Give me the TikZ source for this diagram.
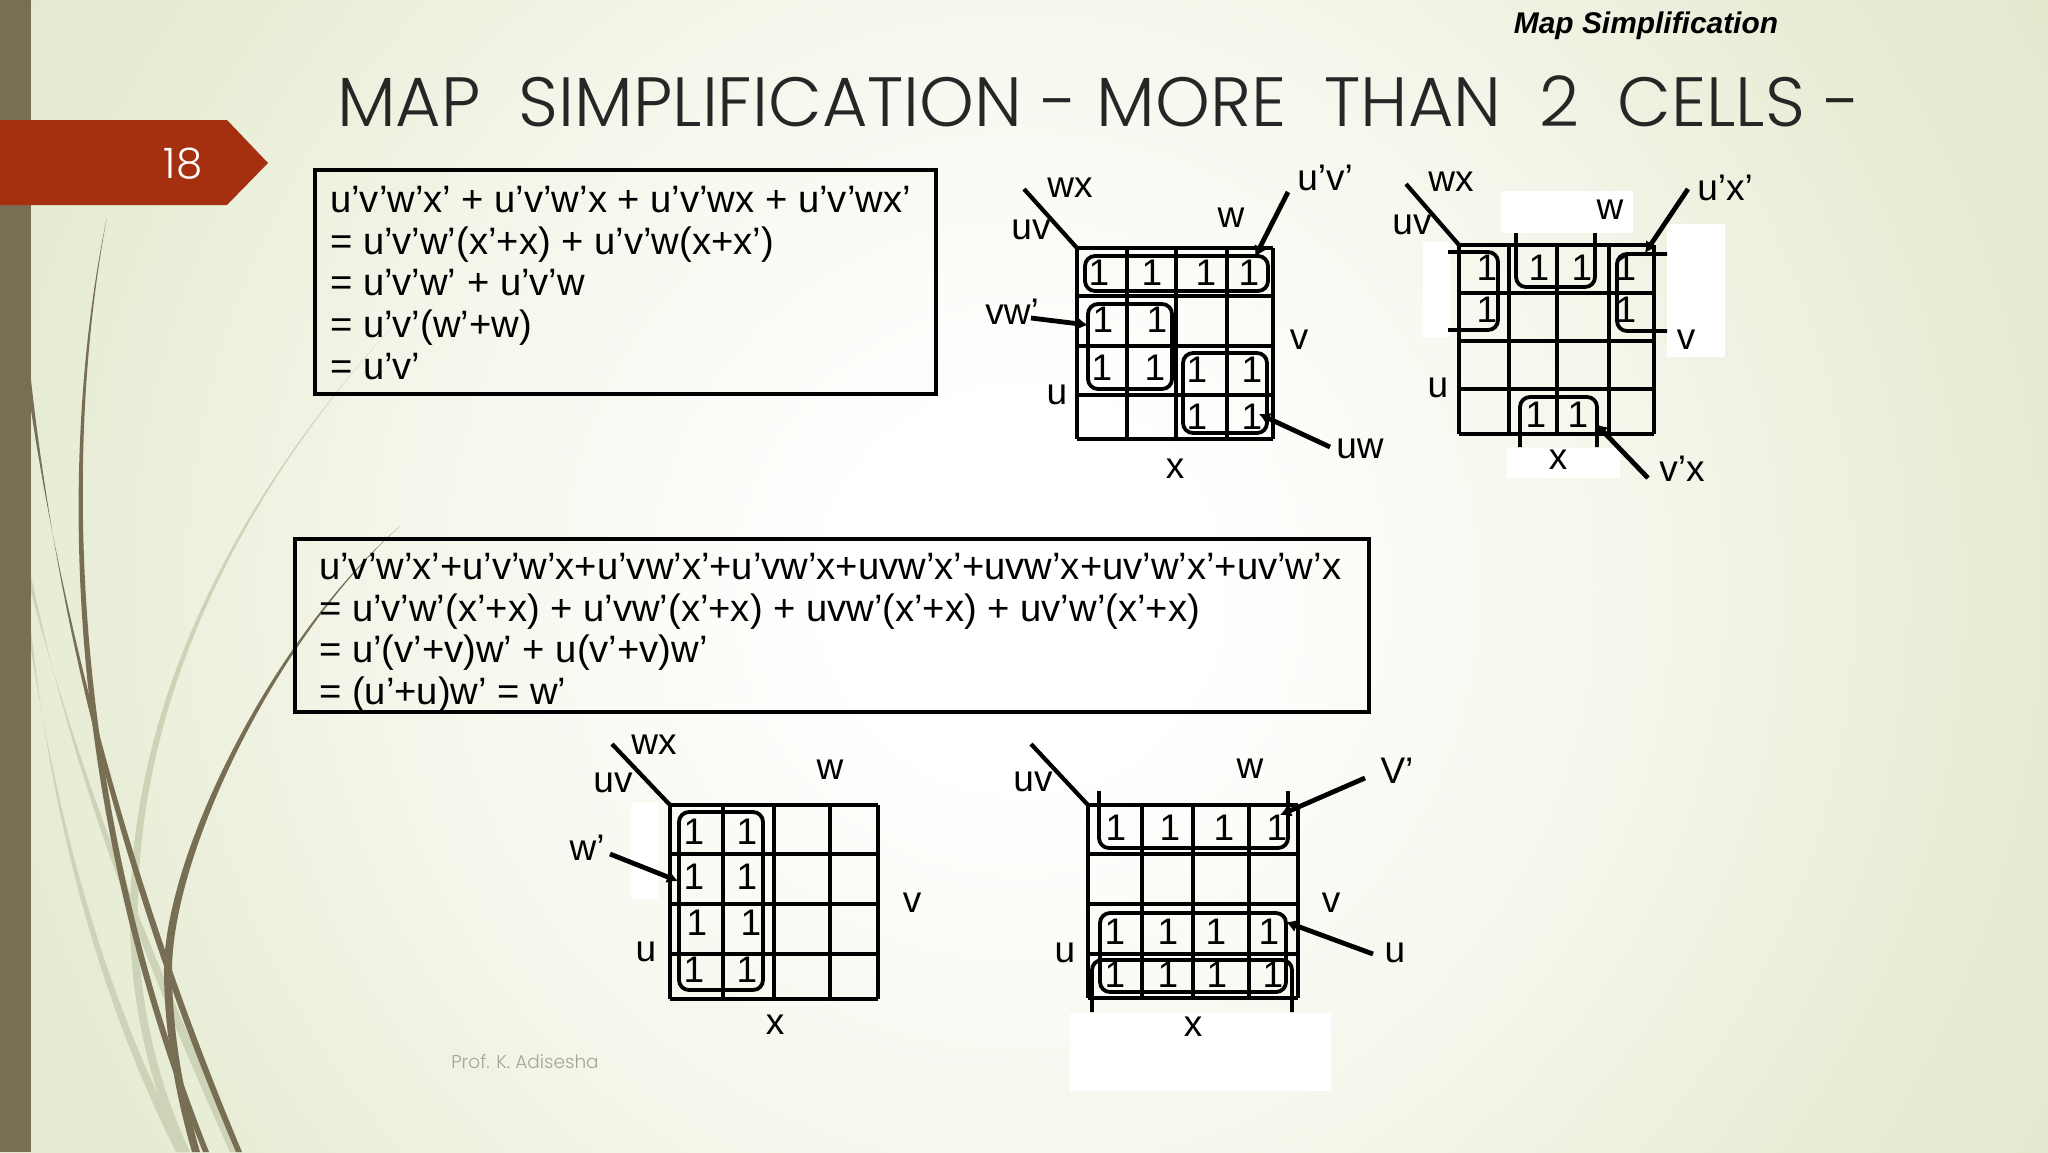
\documentclass[tikz,border=0pt]{standalone}
\usepackage{fontspec}
\setmainfont{Liberation Sans}
\newfontfamily\titlefont{Poppins Light}
\usetikzlibrary{arrows.meta}
\definecolor{bgA}{HTML}{FFFFFF}
\definecolor{bgB}{HTML}{F5F7EC}
\definecolor{bgC}{HTML}{E8EDD6}
\definecolor{bgD}{HTML}{DAE3C0}
\definecolor{barcol}{HTML}{786E54}
\definecolor{redcol}{HTML}{A53010}
\definecolor{curvedark}{HTML}{786E54}
\definecolor{curvelight}{HTML}{CDD3B6}
\definecolor{footcol}{HTML}{A3A695}
\pgfdeclareradialshading{slidebg}{\pgfpoint{0bp}{0bp}}{color(0bp)=(bgA); color(3bp)=(bgA); color(10bp)=(bgB); color(16bp)=(bgC); color(25bp)=(bgD); color(50bp)=(bgD)}
\tikzset{
  lbl/.style={inner sep=0pt,font=\fontsize{37}{37}\selectfont,text=black},
  one/.style={inner sep=0pt,font=\fontsize{37}{37}\selectfont,text=black},
  gridline/.style={line width=4.4pt,draw=black},
  loopline/.style={line width=3.8pt,draw=black,rounded corners=10pt},
  leader/.style={line width=4.2pt,draw=black},
  pointer/.style={line width=4.8pt,draw=black,-{Latex[length=11pt,width=13pt]}},
  mask/.style={fill=white,draw=none},
  eqbox/.style={line width=4.4pt,draw=black},
  eq/.style={inner sep=0pt,anchor=base west,font=\fontsize{38.2}{38.2}\selectfont,text=black}
}
\begin{document}
\begin{tikzpicture}[x=1pt,y=-1pt]
\useasboundingbox (0,0) rectangle (2048,1152);
% background
\begin{scope}
\clip (0,0) rectangle (2048,1152);
\fill[shading=slidebg] (1020,590) circle (1500);
\end{scope}
% swooshes
\fill[curvelight] (31,576) .. controls (70,760) and (130,930) .. (230,1152) -- (241,1152) .. controls (138,930) and (76,760) .. (31,592) -- cycle;
\fill[curvelight] (31,630) .. controls (50,800) and (90,980) .. (176,1152) -- (186,1152) .. controls (96,980) and (55,800) .. (31,650) -- cycle;
\fill[curvelight] (400,318) .. controls (260,470) and (128,680) .. (130,925) .. controls (131,1000) and (148,1080) .. (180,1152) -- (190,1152) .. controls (156,1080) and (139,1000) .. (138,925) .. controls (134,680) and (261,470) .. (400,318) -- cycle;
\fill[curvedark] (31,380) .. controls (60,640) and (128,900) .. (236,1152) -- (242,1152) .. controls (136,900) and (66,640) .. (31,410) -- cycle;
\fill[curvedark] (107,217) .. controls (58,450) and (62,800) .. (203,1152) -- (209,1152) .. controls (69,800) and (63,450) .. (107,217) -- cycle;
\fill[curvedark] (400,526) .. controls (270,640) and (162,860) .. (164,975) .. controls (165,1040) and (177,1100) .. (192,1152) -- (200,1152) .. controls (185,1100) and (173,1040) .. (172,975) .. controls (170,860) and (272,642) .. (400,526) -- cycle;
% side bar and tag
\fill[barcol] (0,0) rectangle (31,1152);
\fill[redcol] (0,120) -- (227,120) -- (268,163) -- (227,205) -- (0,205) -- cycle;
\node[inner sep=0pt,text=white,font=\titlefont\fontsize{42}{42}\selectfont] (num) at (183,164) {18};
% titles
\node[anchor=base,inner sep=0pt,font=\bfseries\itshape\fontsize{29.9}{29.9}\selectfont] (top) at (1646,33) {Map Simplification};
\node[anchor=base west,inner sep=0pt,text=black!85,font=\titlefont\fontsize{69.7}{69.7}\selectfont] (title) at (337,126) {MAP\ \ SIMPLIFICATION - MORE\ \ THAN\ \ 2\ \ CELLS -};
% box 1
\node[inner sep=0pt] (b1a) at (315,170) {};
\node[inner sep=0pt] (b1b) at (936,394) {};
\draw[eqbox] (b1a) rectangle (b1b);
\node[eq] (e11) at (330,212) {u’v’w’x’ + u’v’w’x + u’v’wx + u’v’wx’};
\node[eq] (e12) at (330,254) {= u’v’w’(x’+x) + u’v’w(x+x’)};
\node[eq] (e13) at (330,295) {= u’v’w’ + u’v’w};
\node[eq] (e14) at (330,337) {= u’v’(w’+w)};
\node[eq] (e15) at (330,379) {= u’v’};
% box 2
\node[inner sep=0pt] (b2a) at (295,539) {};
\node[inner sep=0pt] (b2b) at (1369,712) {};
\draw[eqbox] (b2a) rectangle (b2b);
\node[eq] (e21) at (319,579) {u’v’w’x’+u’v’w’x+u’vw’x’+u’vw’x+uvw’x’+uvw’x+uv’w’x’+uv’w’x};
\node[eq] (e22) at (319,621) {= u’v’w’(x’+x) + u’vw’(x’+x) + uvw’(x’+x) + uv’w’(x’+x)};
\node[eq] (e23) at (319,662) {= u’(v’+v)w’ + u(v’+v)w’};
\node[eq] (e24) at (319,704) {= (u’+u)w’ = w’};
% footer
\node[inner sep=0pt,text=footcol,font=\titlefont\fontsize{18.5}{18.5}\selectfont] (foot) at (525,1062) {Prof. K. Adisesha};
% white masks
\fill[mask] (1501,191) rectangle (1633,233);
\fill[mask] (1423,242) rectangle (1450,337);
\fill[mask] (1667,224) rectangle (1725,357);
\fill[mask] (1507,448) rectangle (1620,478);
\fill[mask] (631,803) rectangle (658,899);
\fill[mask] (1070,1013) rectangle (1331,1091);
% ---- map 1
\foreach \x in {1077,1127,1176,1227,1273} \draw[gridline] (\x,248) -- (\x,439);
\foreach \y in {248,296,346,395,439} \draw[gridline] (1077,\y) -- (1273,\y);
\coordinate (m1c) at (1077,248);
\draw[loopline] (1085,256) rectangle (1268,291);
\draw[loopline] (1088,304) rectangle (1172,389);
\draw[loopline] (1183,353) rectangle (1267,433);
\foreach \x/\y in {1099/273,1152/273,1206/273,1249/273,1103/320,1157/320,1102/368,1155/368,1197/370,1252/370,1197/417,1252/417} \node[one] at (\x,\y) {1};
\node[lbl] (m1wx) at (1070,188) {wx};
\node[lbl] (m1uv) at (1031,230) {uv};
\node[lbl] (m1w) at (1231,218) {w};
\node[lbl] (m1uvp) at (1325,178) {u’v’};
\node[lbl] (m1vw) at (1012,312) {vw’};
\node[lbl] (m1v) at (1299,340) {v};
\node[lbl] (m1u) at (1057,395) {u};
\node[lbl] (m1x) at (1175,469) {x};
\node[lbl] (m1uw) at (1360,449) {uw};
\coordinate (m1s) at (1024,189);
\draw[leader] (m1s) -- (m1c);
\coordinate (m1a) at (1288,192); \coordinate (m1A) at (1255,257);
\draw[pointer] (m1a) -- (m1A);
\coordinate (m1b) at (1031,318); \coordinate (m1B) at (1088,325);
\draw[pointer] (m1b) -- (m1B);
\coordinate (m1d) at (1330,447); \coordinate (m1D) at (1259,414);
\draw[pointer] (m1d) -- (m1D);
% ---- map 2
\foreach \x in {1459,1509,1557,1609,1654} \draw[gridline] (\x,245) -- (\x,434);
\foreach \y in {245,293,341,389,434} \draw[gridline] (1459,\y) -- (1654,\y);
\coordinate (m2c) at (1459,245);
\draw[loopline] (1448,252) -- (1498,252) -- (1498,330) -- (1448,330);
\draw[loopline] (1516,233) -- (1516,287) -- (1595,287) -- (1595,233);
\draw[loopline] (1667,254) -- (1617,254) -- (1617,331) -- (1667,331);
\draw[loopline] (1520,447) -- (1520,397) -- (1597,397) -- (1597,447);
\foreach \x/\y in {1487/268,1539/268,1582/268,1626/268,1487/310,1626/310,1536/415,1578/415} \node[one] at (\x,\y) {1};
\node[lbl] (m2wx) at (1451,182) {wx};
\node[lbl] (m2uv) at (1412,225) {uv};
\node[lbl] (m2w) at (1610,210) {w};
\node[lbl] (m2ux) at (1725,188) {u’x’};
\node[lbl] (m2v) at (1686,340) {v};
\node[lbl] (m2u) at (1438,388) {u};
\node[lbl] (m2x) at (1558,460) {x};
\node[lbl] (m2vx) at (1682,469) {v’x};
\coordinate (m2s) at (1406,184);
\draw[leader] (m2s) -- (m2c);
\coordinate (m2a) at (1688,189); \coordinate (m2A) at (1645,253);
\draw[pointer] (m2a) -- (m2A);
\coordinate (m2b) at (1648,478); \coordinate (m2B) at (1596,424);
\draw[pointer] (m2b) -- (m2B);
% ---- map 3
\foreach \x in {670,723,774,830,878} \draw[gridline] (\x,805) -- (\x,999);
\foreach \y in {805,854,904,954,999} \draw[gridline] (670,\y) -- (878,\y);
\coordinate (m3c) at (670,805);
\draw[loopline] (679,812) rectangle (763,990);
\foreach \x/\y in {694/832,747/832,694/877,747/877,697/923,751/923,694/970,747/970} \node[one] at (\x,\y) {1};
\node[lbl] (m3wx) at (654,745) {wx};
\node[lbl] (m3uv) at (613,783) {uv};
\node[lbl] (m3w) at (830,770) {w};
\node[lbl] (m3wp) at (587,848) {w’};
\node[lbl] (m3v) at (912,903) {v};
\node[lbl] (m3u) at (646,952) {u};
\node[lbl] (m3x) at (775,1025) {x};
\coordinate (m3s) at (612,744);
\draw[leader] (m3s) -- (m3c);
\coordinate (m3a) at (610,854); \coordinate (m3A) at (678,881);
\draw[pointer] (m3a) -- (m3A);
% ---- map 4
\foreach \x in {1088,1142,1193,1249,1298} \draw[gridline] (\x,805) -- (\x,998);
\foreach \y in {805,854,904,954,998} \draw[gridline] (1088,\y) -- (1298,\y);
\coordinate (m4c) at (1088,805);
\draw[loopline] (1099,791) -- (1099,848) -- (1288,848) -- (1288,791);
\draw[loopline] (1100,913) rectangle (1286,992);
\draw[loopline] (1092,1012) -- (1092,960) -- (1292,960) -- (1292,1012);
\foreach \x/\y in {1116/828,1170/828,1224/828,1277/828,1115/932,1168/932,1216/932,1269/932,1115/975,1168/975,1217/975,1273/975} \node[one] at (\x,\y) {1};
\node[lbl] (m4uv) at (1033,782) {uv};
\node[lbl] (m4w) at (1250,769) {w};
\node[lbl] (m4vp) at (1397,771) {V’};
\node[lbl] (m4v) at (1331,903) {v};
\node[lbl] (m4u) at (1065,953) {u};
\node[lbl] (m4ur) at (1395,953) {u};
\node[lbl] (m4x) at (1193,1027) {x};
\coordinate (m4s) at (1031,744);
\draw[leader] (m4s) -- (m4c);
\coordinate (m4a) at (1365,778); \coordinate (m4A) at (1280,815);
\draw[pointer] (m4a) -- (m4A);
\coordinate (m4b) at (1373,954); \coordinate (m4B) at (1286,922);
\draw[pointer] (m4b) -- (m4B);
\end{tikzpicture}
\end{document}
